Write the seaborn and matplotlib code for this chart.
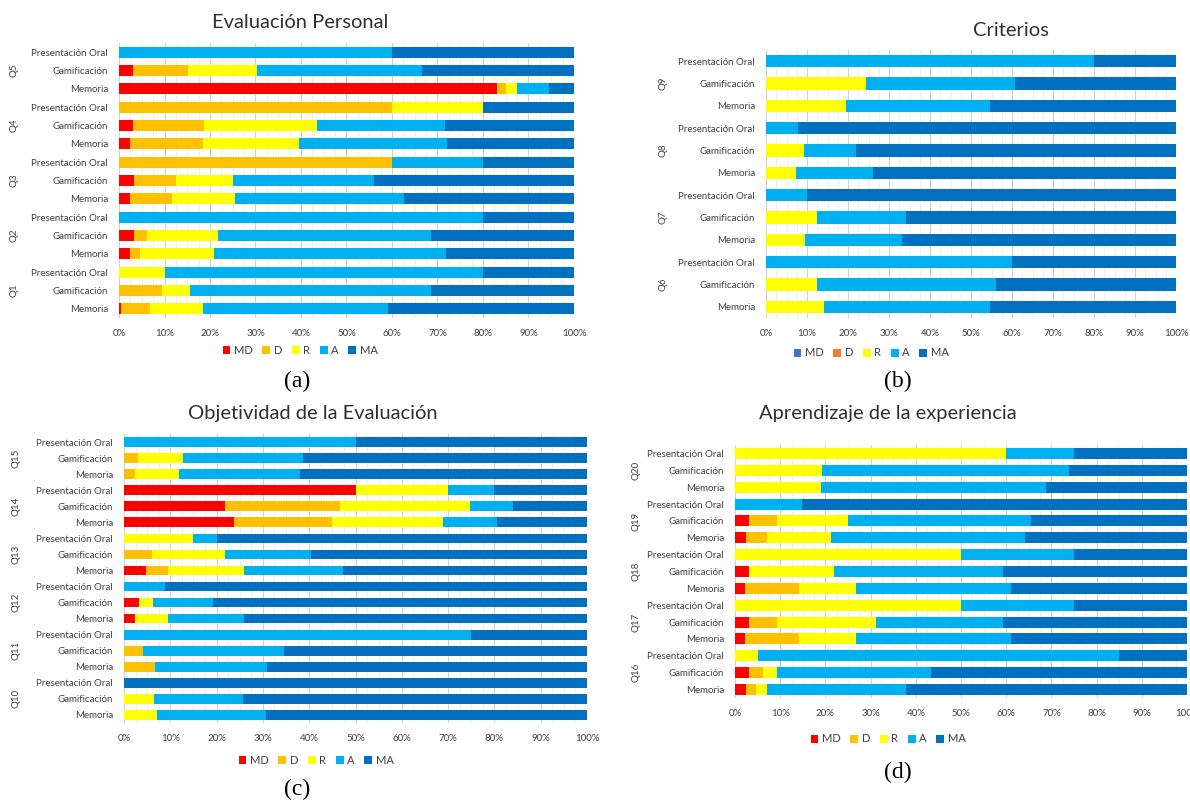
import numpy as np
import pandas as pd
import matplotlib
matplotlib.use("Agg")
import matplotlib.pyplot as plt
import seaborn as sns
from matplotlib.patches import Patch
from matplotlib.transforms import blended_transform_factory

sns.set_theme(style="white")
plt.rcParams['font.family'] = ['Lato', 'DejaVu Sans']

W, H = 1190, 806
levels = ["MD", "D", "R", "A", "MA"]
tasks = ["Presentación Oral", "Gamificación", "Memoria"]

# ---- (a) Evaluación Personal : rows top to bottom, Q5 .. Q1 ----
qa = ["Q5", "Q4", "Q3", "Q2", "Q1"]
a_md = [0, 3.1, 83, 0, 3.1, 2.4, 0, 3.2, 2.5, 0, 3.2, 2.5, 0, 0, 0.5]
a_d = [0, 12.0, 2, 60, 15.5, 16.1, 60, 9.3, 9.2, 0, 3.0, 2.1, 0, 9.4, 6.4]
a_r = [0, 15.2, 2.5, 20, 25, 21, 0, 12.5, 13.9, 0, 15.6, 16.3, 10, 6.2, 11.6]
a_a = [60, 36.2, 7, 0, 28.1, 32.5, 20, 31, 37, 80, 46.7, 50.9, 70, 52.9, 40.6]
a_ma = [40, 33.5, 5.5, 20, 28.3, 28, 20, 44, 37.4, 20, 31.5, 28.2, 20, 31.5, 40.9]

# ---- (b) Criterios : Q9 .. Q6 ----
qb = ["Q9", "Q8", "Q7", "Q6"]
b_md = [0] * 12
b_d = [0] * 12
b_r = [0, 24.3, 19.4, 0, 9.3, 7.2, 0, 12.4, 9.4, 0, 12.4, 14.2]
b_a = [80, 36.4, 35.3, 7.9, 12.6, 19.0, 10, 21.8, 23.8, 60, 43.7, 40.5]
b_ma = [20, 39.3, 45.3, 92.1, 78.1, 73.8, 90, 65.8, 66.8, 40, 43.9, 45.3]

# ---- (c) Objetividad de la Evaluación : Q15 .. Q10 ----
qc = ["Q15", "Q14", "Q13", "Q12", "Q11", "Q10"]
c_md = [0, 0, 0, 50, 21.9, 23.7, 0, 0, 4.7, 0, 3.2, 2.3, 0, 0, 0, 0, 0, 0]
c_d = [0, 3.1, 2.3, 0, 24.7, 21.3, 0, 6.1, 4.8, 0, 0, 0, 0, 4.2, 6.8, 0, 0, 0]
c_r = [0, 9.7, 9.5, 20, 28.1, 23.8, 15, 15.7, 16.5, 0, 3.1, 7.2, 0, 0, 0, 0, 6.4, 7.1]
c_a = [50, 25.8, 26.2, 10, 9.3, 11.8, 5, 18.6, 21.4, 8.9, 12.9, 16.5, 75, 30.4, 24.1, 0, 19.3, 23.6]
c_ma = [50, 61.4, 62, 20, 16, 19.4, 80, 59.6, 52.6, 91.1, 80.8, 74, 25, 65.4, 69.1, 100, 74.3, 69.3]

# ---- (d) Aprendizaje de la experiencia : Q20 .. Q16 ----
qd = ["Q20", "Q19", "Q18", "Q17", "Q16"]
d_md = [0, 0, 0, 0, 3.0, 2.4, 0, 3.1, 2.2, 0, 3.1, 2.2, 0, 3.1, 2.5]
d_d = [0, 0, 0, 0, 6.2, 4.6, 0, 0, 11.9, 0, 6.1, 11.9, 0, 3.2, 2.2]
d_r = [60, 19.3, 19, 0, 15.7, 14.3, 50, 18.7, 12.7, 50, 21.9, 12.7, 5, 2.9, 2.3]
d_a = [15, 54.6, 49.8, 14.9, 40.5, 42.8, 25, 37.4, 34.3, 25, 28.1, 34.3, 80, 34.2, 30.9]
d_ma = [25, 26.1, 31.2, 85.1, 34.6, 35.9, 25, 40.8, 38.9, 25, 40.8, 38.9, 15, 56.6, 62.1]

pal_main = {"MD": "#FF0000", "D": "#FFC000", "R": "#FFFF00", "A": "#00B0F0", "MA": "#0070C0"}
pal_crit = {"MD": "#4472C4", "D": "#ED7D31", "R": "#FFFF00", "A": "#00B0F0", "MA": "#0070C0"}

fig = plt.figure(figsize=(W / 100, H / 100), dpi=100)
fig.patch.set_facecolor("white")


def fx(x):
    return x / W


def fy(y):
    return 1 - y / H


def draw_panel(box, questions, series, colors, title, title_xy, tag, tag_xy,
               legend_xy, q_px, bar_w=0.6):
    left, top, right, bottom = box
    ax = fig.add_axes([fx(left), fy(bottom), (right - left) / W, (bottom - top) / H])
    rows = [f"{q}|{t}" for q in questions for t in tasks]
    df = pd.DataFrame({"row": rows})
    for lev, vals in zip(levels, series):
        df[lev] = vals
    cum = df[levels].cumsum(axis=1)
    # stacked look: draw running totals from the widest down
    for lev in reversed(levels):
        sns.barplot(x=cum[lev].values, y=df["row"].values, order=rows, orient="h",
                    color=colors[lev], saturation=1, width=bar_w, errorbar=None,
                    linewidth=0, ax=ax)
    n = len(rows)
    ax.set_xlim(0, 100)
    ax.set_ylim(n - 0.5, -0.5)
    ax.set_xticks(np.arange(0, 101, 10))
    ax.set_xticklabels([f"{v}%" for v in range(0, 101, 10)], fontsize=7, color="#404040")
    ax.set_xticks(np.arange(0, 101, 2.5), minor=True)
    ax.set_yticks(range(n))
    ax.set_yticklabels(tasks * len(questions), fontsize=7, color="#404040")
    ax.set_xlabel("")
    ax.set_ylabel("")
    ax.tick_params(axis="both", length=0, pad=8)
    ax.tick_params(axis="x", which="minor", length=0)
    ax.grid(axis="x", which="major", color="#D0D0D0", lw=0.8)
    ax.grid(axis="x", which="minor", color="#EDEDED", lw=0.6)
    ax.set_axisbelow(True)
    for s in ax.spines.values():
        s.set_visible(False)
    tr = blended_transform_factory(ax.transAxes, ax.transData)
    qx = (q_px - left) / (right - left)
    for i, q in enumerate(questions):
        ax.text(qx, 3 * i + 1, q, rotation=90, transform=tr, ha="center",
                va="center", fontsize=7, color="#404040")
    fig.text(fx(title_xy[0]), fy(title_xy[1]), title, ha="center", va="center",
             fontsize=14.5, color="#303030")
    fig.text(fx(tag_xy[0]), fy(tag_xy[1]), tag, ha="center", va="center",
             fontsize=17, family="Liberation Serif", color="black")
    handles = [Patch(facecolor=colors[l], edgecolor="none") for l in levels]
    fig.legend(handles, levels, loc="center", bbox_to_anchor=(fx(legend_xy[0]), fy(legend_xy[1])),
               ncol=5, frameon=False, handlelength=0.7, handleheight=0.7,
               handletextpad=0.3, columnspacing=0.9, fontsize=8,
               labelcolor="#404040")
    return ax


draw_panel((119, 43, 574, 318), qa, [a_md, a_d, a_r, a_a, a_ma], pal_main,
           "Evaluación Personal", (300, 22), "(a)", (297, 381), (300, 350), 14)
draw_panel((766, 50, 1176, 318), qb, [b_md, b_d, b_r, b_a, b_ma], pal_crit,
           "Criterios", (1011, 30), "(b)", (898, 381), (871, 353), 663, bar_w=0.55)
draw_panel((124, 434, 587, 723), qc, [c_md, c_d, c_r, c_a, c_ma], pal_main,
           "Objetividad de la Evaluación", (313, 413), "(c)", (297, 789), (316, 760), 16)
draw_panel((735, 445, 1187, 698), qd, [d_md, d_d, d_r, d_a, d_ma], pal_main,
           "Aprendizaje de la experiencia", (888, 413), "(d)", (898, 772), (888, 739), 636,
           bar_w=0.65)

fig.savefig("out.png", dpi=100, facecolor="white")
